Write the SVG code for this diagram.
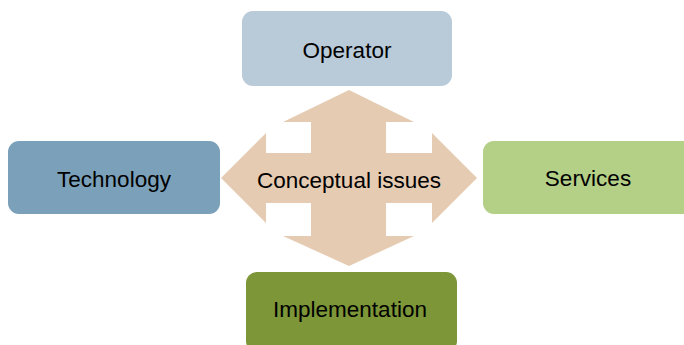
<svg xmlns="http://www.w3.org/2000/svg" width="684" height="345" viewBox="0 0 684 345">
<style>
.box{stroke:none}
.lbl{font-family:"Liberation Sans",Arial,sans-serif;font-size:22.5px;fill:#000;text-anchor:middle}
</style>
<rect width="684" height="345" fill="#fff"/>
<g id="connectors">
<polygon id="conceptual-arrow" fill="#e5cbb2" points="349,90 414,122 386,122 386,153 432,153 432,133 477,178 432,223 432,203 386,203 386,236 414,236 349,266 283,236 311,236 311,203 266,203 266,223 221,178 266,133 266,153 311,153 311,122 283,122"/>
</g>
<g id="conceptual">
<text class="lbl" x="349" y="188">Conceptual issues</text>
</g>
<g id="operator">
<rect class="box" x="242" y="11" width="210" height="75" rx="11" fill="#b9cad9"/>
<text class="lbl" x="347" y="58">Operator</text>
</g>
<g id="technology">
<rect class="box" x="8" y="141" width="212" height="73" rx="11" fill="#7ba0b9"/>
<text class="lbl" x="114" y="187">Technology</text>
</g>
<g id="services">
<rect class="box" x="483" y="141" width="215" height="73" rx="11" fill="#b4cf86"/>
<text class="lbl" x="588" y="185.5">Services</text>
</g>
<g id="implementation">
<rect class="box" x="246" y="272" width="211" height="80" rx="11" fill="#7c9638"/>
<text class="lbl" x="350" y="317">Implementation</text>
</g>
</svg>
